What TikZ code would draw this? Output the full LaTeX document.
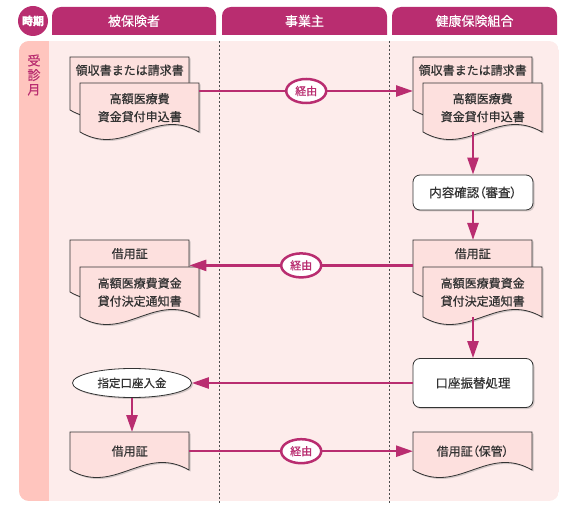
\documentclass[tikz,border=0pt]{standalone}
\usepackage{fontspec}
\setmainfont{Noto Sans CJK JP}[FakeBold=0.6]
\usetikzlibrary{calc,arrows.meta,shadows,shapes.geometric}

\definecolor{mag}{RGB}{185,45,112}
\definecolor{bodypink}{RGB}{253,236,235}
\definecolor{strip}{RGB}{255,197,190}
\definecolor{docpink}{RGB}{253,224,222}
\definecolor{ink}{RGB}{51,51,51}

\tikzset{
  docu/.style={fill=docpink, draw=ink, line width=.8pt,
    drop shadow={shadow xshift=1.5pt, shadow yshift=-1.5pt, opacity=.35}},
  doctext/.style={minimum width=119pt, inner sep=0pt, text=ink, align=center,
    font=\fontsize{12}{18}\selectfont},
  flow/.style={draw=mag, line width=2.5pt, -{Triangle[length=17pt,width=11pt]}},
  via/.style={ellipse, fill=white, draw=mag, line width=2.5pt, minimum width=40pt,
    minimum height=24pt, inner sep=0pt, text=mag, font=\fontsize{11}{11}\selectfont},
  task/.style={rounded corners=7pt, fill=white, draw=ink, line width=.8pt,
    minimum width=120pt, minimum height=35pt, text=ink, font=\fontsize{12.5}{12.5}\selectfont,
    drop shadow={shadow xshift=1.5pt, shadow yshift=-1.5pt, opacity=.35}},
  payin/.style={ellipse, fill=white, draw=ink, line width=.8pt, minimum width=119pt,
    minimum height=29pt, inner sep=0pt, text=ink, font=\fontsize{11.5}{11.5}\selectfont,
    drop shadow={shadow xshift=1.5pt, shadow yshift=-1.5pt, opacity=.35}},
  tabtext/.style={text=white, font=\fontsize{13}{13}\selectfont},
  lane/.style={gray!60!black, dash pattern=on 2pt off 2pt, line width=.6pt}
}

% paper with a wavy lower edge: name, top left, side height, label height, text
\newcommand\blatt[5]{%
  \draw[docu] (#2) -- ++(119,0) -- ++(0,#3) .. controls +(-45,-26) and +(45,26) .. ++(-119,0) -- cycle;
  \node[doctext, minimum height=#4pt, anchor=north west] (#1) at (#2) {#5};
}
\newcommand\prop{\addfontfeature{RawFeature=+palt}}

\begin{document}
\begin{tikzpicture}[x=1pt,y=-1pt]
    \useasboundingbox (0,0) rectangle (579,505);

    % body and month column
    \begin{scope}
      \clip[rounded corners=10pt] (19,41) rectangle (559,501);
      \fill[bodypink] (19,41) rectangle (559,501);
      \fill[strip] (19,41) rectangle (49,501);
    \end{scope}
    \node[text=mag, align=center, font=\fontsize{13}{14.5}\selectfont] (month) at (34,75) {受\\診\\月};
    \draw[lane] (219.5,41) -- (219.5,505);
    \draw[lane] (389.5,41) -- (389.5,505);

    % header
    \node[circle, fill=mag, minimum size=30pt, inner sep=0pt, text=white,
      font=\bfseries\fontsize{11}{11}\selectfont] (period) at (33,21) {時期};
    \begin{scope}
      \clip (0,0) rectangle (579,35);
      \foreach \a/\b in {52/216,222/387,392/557}
        \fill[mag, rounded corners=9pt] (\a,7) rectangle (\b,50);
    \end{scope}
    \node[tabtext] (insured) at (134,21) {被保険者};
    \node[tabtext] (employer) at (304.5,21) {事業主};
    \node[tabtext] (union) at (474.5,21) {健康保険組合};

    % papers and steps
    \blatt{req1}{70,57}{53}{26}{領収書または請求書}
    \blatt{apply1}{80,83}{49}{49}{高額医療費\\資金貸付申込書}
    \blatt{req2}{413,57}{53}{26}{領収書または請求書}
    \blatt{apply2}{423,83}{49}{49}{高額医療費\\資金貸付申込書}
    \node[task] (check) at (473,192.5) {\prop 内容確認（審査）};
    \blatt{loan2}{413,240}{52}{27}{借用証}
    \blatt{notice2}{423,267}{50}{50}{高額医療費資金\\貸付決定通知書}
    \blatt{loan1}{70,240}{52}{27}{借用証}
    \blatt{notice1}{80,267}{50}{50}{高額医療費資金\\貸付決定通知書}
    \node[task, minimum height=49pt] (transfer) at (473,383) {口座振替処理};
    \node[payin] (deposit) at (132,383) {指定口座入金};
    \blatt{cert1}{70,432}{38}{38}{借用証}
    \blatt{cert2}{413,432}{38}{38}{\prop 借用証（保管）}

    % flows
    \coordinate (r1) at ($(apply1.north east)+(0,8)$);
    \draw[flow] (r1) -- node[via] (via1) {経由} (r1 -| req2.west);
    \draw[flow] (apply2.south -| check.north) -- (check.north);
    \draw[flow] (check.south) -- (check.south |- loan2.north);
    \coordinate (r2) at ($(loan2.south west)+(0,-2)$);
    \draw[flow] (r2) -- node[via] (via2) {経由} (r2 -| loan1.east);
    \draw[flow] (notice2.south -| transfer.north) -- (transfer.north);
    \draw[flow] (transfer.west) -- (deposit.east);
    \draw[flow] (deposit.south) -- (deposit.south |- cert1.north);
    \draw[flow] (cert1.east) -- node[via] (via3) {経由} (cert2.west);
\end{tikzpicture}
\end{document}
